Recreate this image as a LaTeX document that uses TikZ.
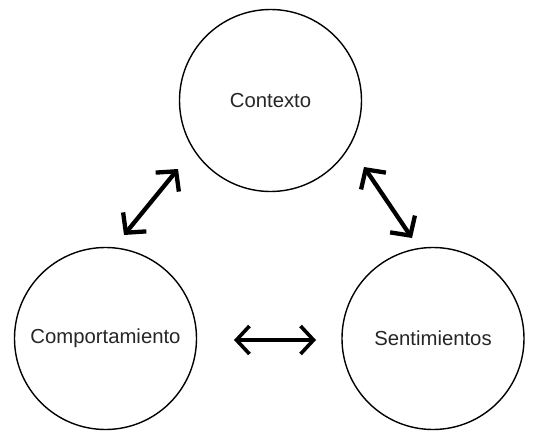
\documentclass[tikz,border=0pt]{standalone}
\usepackage{fontspec}
\setmainfont{Liberation Sans}
\usetikzlibrary{arrows.meta}
\begin{document}
\begin{tikzpicture}[x=1pt,y=-1pt,
  bubble/.style={circle, draw=black, line width=1.4pt, minimum size=182pt,
    inner sep=0pt, font=\fontsize{20.3}{24}\selectfont, text=black!85},
  barb/.tip={Straight Barb[length=14pt,width=30pt,line join=miter]},
  hbarb/.tip={Straight Barb[length=13pt,width=28pt,line join=miter]},
  link/.style={line width=4.3pt, {barb}-{barb}},
  hlink/.style={line width=3.6pt, {hbarb}-{hbarb}}]
  \useasboundingbox (0,0) rectangle (544,434);
  \fill[white] (0,0) rectangle (544,434);

  % the three circles
  \node[bubble] (ctx) at (270.5,100.5) {Contexto};
  \node[bubble] (cmp) at (105.5,338.5) {Comportamiento};
  \node[bubble] (snt) at (433,338.5) {Sentimientos};

  % arrow end points in the gaps between the circles
  \coordinate (cmpA) at (124,235);
  \coordinate (ctxA) at (178,169);
  \coordinate (ctxB) at (364,167);
  \coordinate (sntB) at (412,238);
  \coordinate (cmpC) at (234,340);
  \coordinate (sntC) at (316,340);

  \draw[link] (cmpA) -- (ctxA);
  \draw[link] (ctxB) -- (sntB);
  \draw[hlink] (cmpC) -- (sntC);
\end{tikzpicture}
\end{document}
